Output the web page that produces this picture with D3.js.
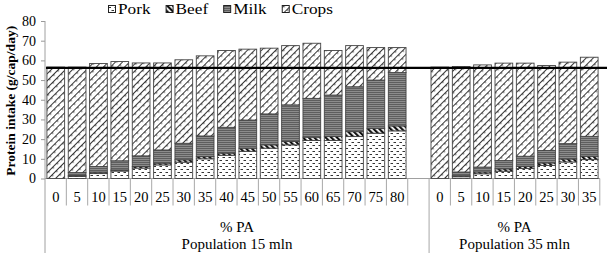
<!DOCTYPE html>
<html>
<head>
<meta charset="utf-8">
<script src="https://cdn.jsdelivr.net/npm/d3@7"></script>
<style>
  body { margin: 0; background: #fff; }
  text { font-family: "Liberation Serif", "Times New Roman", serif; }
</style>
</head>
<body>
<div id="d3-container"></div>
<script>
/**
 * CONSTANTS AND GLOBALS
 * */
const width = 609,
  height = 253,
  margin = { top: 21, bottom: 74, left: 45, right: 9 };

// % PA categories for each population scenario
const pa15 = ["0", "5", "10", "15", "20", "25", "30", "35", "40", "45", "50", "55", "60", "65", "70", "75", "80"];
const pa35 = ["0", "5", "10", "15", "20", "25", "30", "35"];

// protein intake (g/cap/day)
const pork15 = [0, 1.0, 2.5, 3.8, 5.3, 6.9, 8.3, 10.0, 11.8, 13.8, 15.4, 17.1, 19.3, 19.3, 21.3, 23.0, 24.2];
const beef15 = [0, 0.5, 0.7, 0.5, 0.8, 0.9, 1.2, 1.1, 1.1, 1.6, 1.7, 1.7, 1.7, 2.1, 2.5, 2.5, 2.5];
const milk15 = [0, 1.5, 2.9, 4.7, 5.4, 6.7, 8.4, 10.5, 13.1, 14.3, 15.7, 18.6, 19.7, 21.0, 22.8, 24.5, 27.1];
const crops15 = [56.6, 53.6, 52.3, 50.4, 47.2, 44.2, 42.4, 40.7, 39.0, 36.0, 33.4, 30.1, 28.0, 22.6, 20.9, 16.5, 12.7];

const pork35 = [0, 0.9, 2.4, 3.7, 5.1, 6.6, 8.4, 9.6];
const beef35 = [0, 0.5, 0.9, 1.2, 1.1, 1.3, 1.5, 1.7];
const milk35 = [0, 1.9, 2.5, 4.2, 5.1, 6.3, 7.8, 10.1];
const crops35 = [56.6, 53.6, 51.9, 49.5, 47.3, 43.2, 41.4, 40.2];

const seriesNames = ["Pork", "Beef", "Milk", "Crops"];
const reference = 56.2;
const yTicks = [0, 10, 20, 30, 40, 50, 60, 70, 80];
const groupLabels = ["Population 15 mln", "Population 35 mln"];

// one row per slot; an empty slot sits between the two groups
const rows = [
  ...pa15.map((pa, i) => ({ key: "a" + pa, pa, Pork: pork15[i], Beef: beef15[i], Milk: milk15[i], Crops: crops15[i] })),
  { key: "gap", pa: "", Pork: 0, Beef: 0, Milk: 0, Crops: 0 },
  ...pa35.map((pa, i) => ({ key: "b" + pa, pa, Pork: pork35[i], Beef: beef35[i], Milk: milk35[i], Crops: crops35[i] })),
];

const svg = d3.select("#d3-container")
  .append("svg")
  .attr("width", width)
  .attr("height", height);

/**
 * PATTERNS
 * */
const defs = svg.append("defs");

// pork: little dashes on white
const pPork = defs.append("pattern").attr("id", "p-pork")
  .attr("patternUnits", "userSpaceOnUse").attr("width", 6).attr("height", 6);
pPork.append("rect").attr("width", 6).attr("height", 6).attr("fill", "#fff");
pPork.append("path").attr("d", "M0.5,1.5h2.5M3.5,4.5h2.5")
  .attr("stroke", "#333").attr("stroke-width", 1);

// beef: heavy black diagonal stripes
const pBeef = defs.append("pattern").attr("id", "p-beef")
  .attr("patternUnits", "userSpaceOnUse").attr("width", 4).attr("height", 4)
  .attr("patternTransform", "rotate(-45)");
pBeef.append("rect").attr("width", 4).attr("height", 4).attr("fill", "#fff");
pBeef.append("rect").attr("width", 2.2).attr("height", 4).attr("fill", "#111");

// milk: grey with thin horizontal lines
const pMilk = defs.append("pattern").attr("id", "p-milk")
  .attr("patternUnits", "userSpaceOnUse").attr("width", 4).attr("height", 2);
pMilk.append("rect").attr("width", 4).attr("height", 2).attr("fill", "#8c8c8c");
pMilk.append("rect").attr("width", 4).attr("height", 1).attr("fill", "#5e5e5e");

// crops: light diagonal hatch with small cross dashes
const pCrops = defs.append("pattern").attr("id", "p-crops")
  .attr("patternUnits", "userSpaceOnUse").attr("width", 5).attr("height", 6)
  .attr("patternTransform", "rotate(45)");
pCrops.append("rect").attr("width", 5).attr("height", 6).attr("fill", "#fff");
pCrops.append("path").attr("d", "M0.5,0V6M0.5,3H2.2")
  .attr("stroke", "#222").attr("stroke-width", 0.9);

const fills = { Pork: "url(#p-pork)", Beef: "url(#p-beef)", Milk: "url(#p-milk)", Crops: "url(#p-crops)" };

/**
 * SCALES
 * */
const x = d3.scaleBand()
  .domain(rows.map(d => d.key))
  .range([margin.left, width - margin.right])
  .paddingInner(0.17)
  .paddingOuter(0.09);

const y = d3.scaleLinear()
  .domain([0, 80])
  .range([height - margin.bottom - 0.5, margin.top]);

const stack = d3.stack().keys(seriesNames)(rows);

/**
 * AXES
 * */
const yAxis = svg.append("g")
  .attr("transform", `translate(${margin.left},0)`)
  .call(d3.axisLeft(y).tickValues(yTicks).tickSize(4).tickPadding(5))
  .call(g => g.select(".domain").remove());
yAxis.selectAll(".tick line").attr("stroke", "#999");
yAxis.selectAll(".tick text").attr("font-size", 14).attr("fill", "#000")
  .style("font-family", "Liberation Serif, serif");

const x0 = y(0);
const step = x.step();

// y axis line runs down past the category labels
svg.append("line")
  .attr("x1", margin.left).attr("x2", margin.left)
  .attr("y1", y(80)).attr("y2", height)
  .attr("stroke", "#a0a0a0");

// x axis baseline
svg.append("line")
  .attr("x1", margin.left).attr("x2", width - margin.right)
  .attr("y1", x0).attr("y2", x0)
  .attr("stroke", "#a0a0a0");

// category separators
const gapIndex = rows.findIndex(d => d.key === "gap");
svg.selectAll("line.sep")
  .data(rows.map((d, i) => i).filter(i => i > 0).concat([rows.length]))
  .join("line")
  .attr("class", "sep")
  .attr("x1", i => margin.left + i * step)
  .attr("x2", i => margin.left + i * step)
  .attr("y1", x0)
  .attr("y2", i => i === gapIndex + 1 ? height : x0 + 27)
  .attr("stroke", "#a8a8a8");

// category labels
svg.selectAll("text.cat")
  .data(rows.filter(d => d.pa !== ""))
  .join("text")
  .attr("class", "cat")
  .attr("x", d => x(d.key) + x.bandwidth() / 2)
  .attr("y", x0 + 23.5)
  .attr("text-anchor", "middle")
  .attr("font-size", 14.5)
  .text(d => d.pa);

// group labels
const groupSpan = [
  [margin.left, margin.left + (gapIndex + 1) * step],
  [margin.left + (gapIndex + 1) * step, width - margin.right],
];
groupSpan.forEach(([a, b], i) => {
  const g = svg.append("text")
    .attr("x", (a + b) / 2)
    .attr("text-anchor", "middle")
    .attr("font-size", 15);
  g.append("tspan").attr("x", (a + b) / 2).attr("y", 232).text("% PA");
  g.append("tspan").attr("x", (a + b) / 2).attr("y", 249).text(groupLabels[i]);
});

// y axis title
svg.append("text")
  .attr("transform", `translate(15,${(y(0) + y(80)) / 2 + 1}) rotate(-90)`)
  .attr("text-anchor", "middle")
  .attr("font-size", 13.5)
  .attr("font-weight", "bold")
  .text("Protein intake (g/cap/day)");

/**
 * BARS
 * */
svg.append("g")
  .selectAll("g")
  .data(stack)
  .join("g")
  .attr("fill", d => fills[d.key])
  .selectAll("rect")
  .data(d => d.filter(s => s.data.key !== "gap" && s[1] - s[0] > 0))
  .join("rect")
  .attr("x", s => x(s.data.key))
  .attr("width", x.bandwidth())
  .attr("y", s => y(s[1]))
  .attr("height", s => y(s[0]) - y(s[1]))
  .attr("stroke", "#444")
  .attr("stroke-width", 0.9);

// reference line
svg.append("line")
  .attr("x1", margin.left + 1).attr("x2", width - 2)
  .attr("y1", y(reference)).attr("y2", y(reference))
  .attr("stroke", "#000")
  .attr("stroke-width", 2.2);

/**
 * LEGEND
 * text in the original is a bit wider than plain Times, so stretch it
 * */
const legend = svg.append("g").attr("transform", "translate(108,0)");
let lx = 0;
seriesNames.forEach(name => {
  const item = legend.append("g").attr("transform", `translate(${lx},0)`);
  item.append("rect")
    .attr("x", 0.5).attr("y", 5.5)
    .attr("width", 7).attr("height", 7)
    .attr("fill", fills[name])
    .attr("stroke", "#222");
  const t = item.append("text")
    .attr("x", 10).attr("y", 14)
    .attr("font-size", 15)
    .text(name);
  const w = t.node().getComputedTextLength() * 1.15;
  t.attr("textLength", w).attr("lengthAdjust", "spacingAndGlyphs");
  lx += 10 + w + 15;
});
</script>
</body>
</html>
